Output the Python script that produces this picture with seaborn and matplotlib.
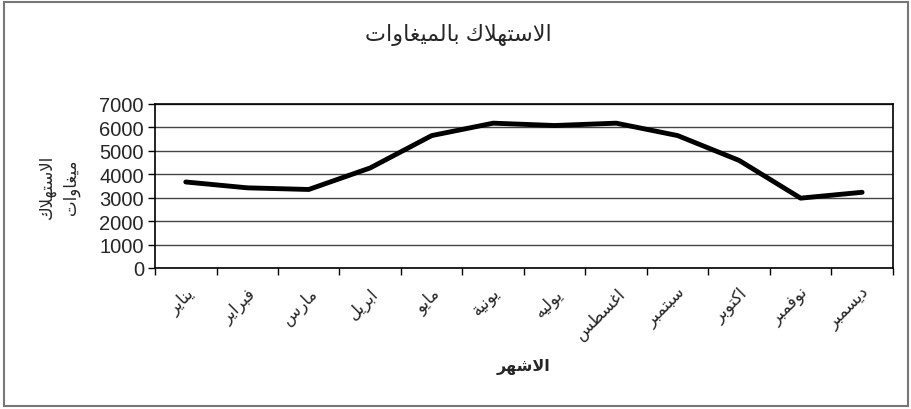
import matplotlib
matplotlib.use("Agg")
import numpy as np
import pandas as pd
import matplotlib.pyplot as plt
import seaborn as sns
from matplotlib.patches import Rectangle

# values
months = ["يناير", "فبراير", "مارس", "ابريل", "مايو", "يونية",
          "يوليه", "اغسطس", "سبتمبر", "اكتوبر", "نوفمبر", "ديسمبر"]
consumption = [3670, 3420, 3350, 4270, 5650, 6180, 6080, 6180, 5650, 4590, 2980, 3230]
y_ticks = [0, 1000, 2000, 3000, 4000, 5000, 6000, 7000]
title = "الاستهلاك بالميغاوات"
x_label = "الاشهر"
y_label = ["الاستهلاك", "ميغاوات"]

# matplotlib does no arabic shaping, so map letters to presentation forms by hand
DUAL = {"ب": 0xFE8F, "ت": 0xFE95, "س": 0xFEB1, "ش": 0xFEB5, "ط": 0xFEC1,
        "غ": 0xFECD, "ف": 0xFED1, "ك": 0xFED9, "ل": 0xFEDD, "م": 0xFEE1,
        "ن": 0xFEE5, "ه": 0xFEE9, "ي": 0xFEF1}
RIGHT = {"ا": 0xFE8D, "ة": 0xFE93, "د": 0xFEA9, "ر": 0xFEAD, "و": 0xFEED}


def shape(text):
    tokens = []
    i = 0
    while i < len(text):
        if text[i] == "ل" and i + 1 < len(text) and text[i + 1] == "ا":
            tokens.append("LA")
            i += 2
        else:
            tokens.append(text[i])
            i += 1
    is_letter = lambda t: t in DUAL or t in RIGHT or t == "LA"
    out = []
    for k, t in enumerate(tokens):
        prev = tokens[k - 1] if k > 0 else None
        nxt = tokens[k + 1] if k + 1 < len(tokens) else None
        a = prev in DUAL
        b = t in DUAL and nxt is not None and is_letter(nxt)
        if t == "LA":
            out.append(chr(0xFEFC if a else 0xFEFB))
        elif t in DUAL:
            out.append(chr(DUAL[t] + (3 if a and b else 1 if a else 2 if b else 0)))
        elif t in RIGHT:
            out.append(chr(RIGHT[t] + (1 if a else 0)))
        else:
            out.append(t)
    return "".join(reversed(out))


sns.set_style("white")
plt.rcParams["font.family"] = ["Liberation Sans", "DejaVu Sans"]

df = pd.DataFrame({"month": [shape(m) for m in months], "value": consumption})

fig = plt.figure(figsize=(9.12, 4.10), dpi=100)
ax = fig.add_axes([0.170, 0.344, 0.809, 0.400])

sns.lineplot(data=df, x="month", y="value", sort=False, color="black",
             linewidth=3.5, ax=ax)

ax.set_xlim(-0.5, 11.5)
ax.set_ylim(0, 7000)
ax.set_yticks(y_ticks)
ax.set_yticklabels([str(v) for v in y_ticks], fontsize=14.5)

# tick marks between categories, labels under the centres
ax.set_xticks(np.arange(-0.5, 12, 1))
ax.set_xticklabels([""] * 13)
ax.set_xticks(np.arange(12), minor=True)
ax.set_xticklabels(df["month"], minor=True, rotation=45, ha="right",
                   rotation_mode="anchor", fontsize=12)
ax.tick_params(axis="x", which="major", direction="out", length=5, width=1,
               color="black", bottom=True)
ax.tick_params(axis="x", which="minor", length=0, pad=12)
ax.tick_params(axis="y", direction="out", length=5, width=1, color="black",
               left=True, pad=3)

ax.yaxis.grid(True, color="#444444", linewidth=1)
ax.set_axisbelow(True)
for s in ax.spines.values():
    s.set_color("black")
    s.set_linewidth(1.2)

ax.set_xlabel(shape(x_label), fontsize=11.5, fontweight="bold", labelpad=12)
ax.set_ylabel("\n".join(shape(t) for t in y_label), fontsize=12,
              linespacing=1.5, labelpad=14)

fig.text(0.503, 0.915, shape(title), ha="center", va="center", fontsize=16)

fig.patches.append(Rectangle((0.004, 0.008), 0.992, 0.984, transform=fig.transFigure,
                             fill=False, edgecolor="#777777", linewidth=1.5))

fig.savefig("out.png", dpi=100)
